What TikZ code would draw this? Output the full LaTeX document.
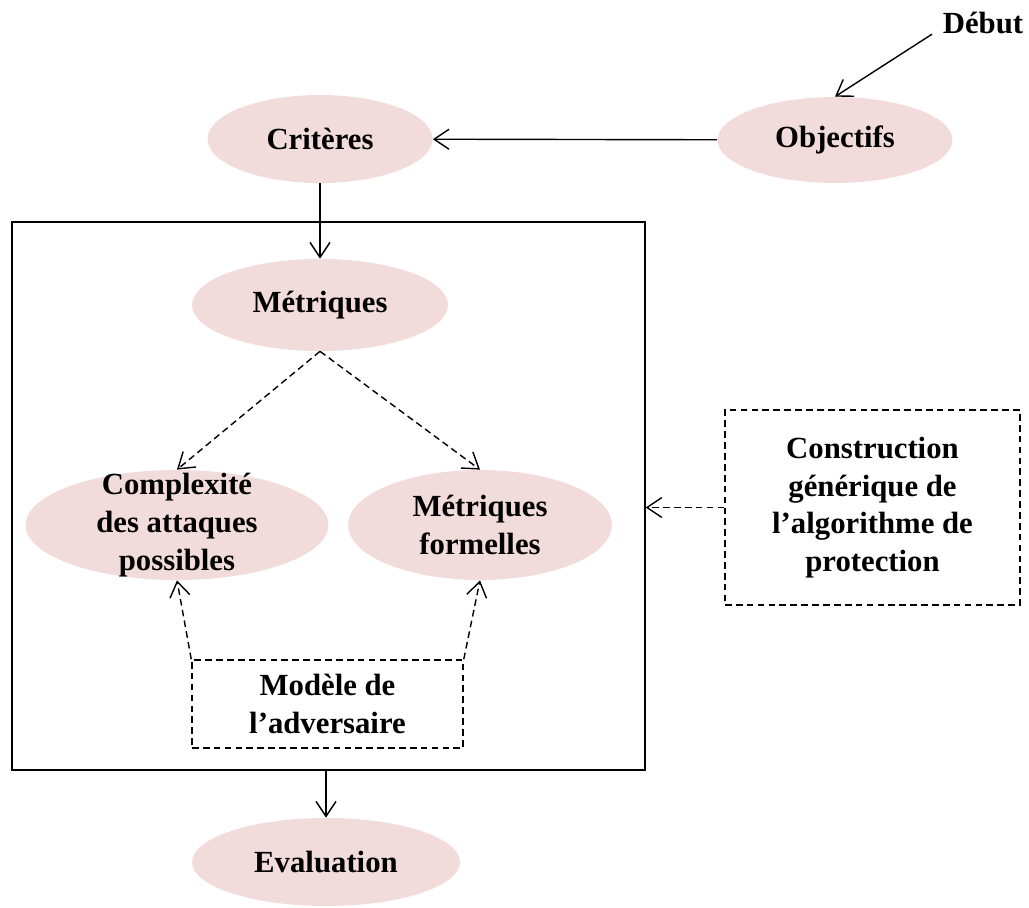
\documentclass[tikz,border=0pt]{standalone}
\usepackage{fontspec}
\setmainfont{Liberation Serif}
\usetikzlibrary{shapes.geometric,arrows.meta}
\definecolor{rose}{RGB}{242,220,219}
\tikzset{
  etat/.style={ellipse, fill=rose, inner sep=0pt, align=center},
  boite/.style={draw, line width=0.8pt, align=center},
  tirets/.style={line width=0.9pt, dash pattern=on 3.8pt off 2.4pt},
  fleche/.style={-{Straight Barb[length=0.3cm,width=0.4cm]}, line width=0.8pt},
}
\begin{document}
\begin{tikzpicture}[x=0.02cm, y=-0.02cm,
    font=\bfseries\fontsize{17.5}{21.5}\selectfont]
  \useasboundingbox (0,0) rectangle (1029,908);
  % etats
  \node (debut) [inner xsep=6pt, inner ysep=0pt] at (983,23) {Début};
  \node (objectifs) [etat, minimum width=4.7cm, minimum height=1.72cm] at (835,140) {Objectifs};
  \node (criteres) [etat, minimum width=4.5cm, minimum height=1.76cm] at (320,139) {Critères};
  \node (cadre) [boite, minimum width=12.66cm, minimum height=10.96cm] at (328.5,496) {};
  \node (metriques) [etat, minimum width=5.12cm, minimum height=1.84cm] at (320,305) {Métriques};
  \node (complexite) [etat, minimum width=6.06cm, minimum height=2.2cm,
    label={[align=center]center:Complexité\\des attaques\\possibles}] at (177,525) {};
  \node (formelles) [etat, minimum width=5.28cm, minimum height=2.2cm] at (480,525) {Métriques\\formelles};
  \node (adversaire) [boite, tirets, minimum width=5.42cm, minimum height=1.76cm] at (327.5,704) {Modèle de\\l’adversaire};
  \node (construction) [boite, tirets, minimum width=5.9cm, minimum height=3.9cm] at (872.5,507.5) {Construction\\générique de\\l’algorithme de\\protection};
  \node (evaluation) [etat, minimum width=5.36cm, minimum height=1.76cm] at (326,862) {Evaluation};
  % liens
  \draw[fleche] (debut.south west) -- (objectifs.north);
  \draw[fleche] (objectifs) -- (criteres);
  \draw[fleche] (criteres) -- (metriques);
  \begin{scope}[tirets]
    \draw[fleche] (metriques.south) -- (complexite.north);
    \draw[fleche] (metriques.south) -- (formelles.north);
    \draw[fleche] (adversaire.north west) -- (complexite.south);
    \draw[fleche] (adversaire.north east) -- (formelles.south);
    \draw[fleche] (construction.west) -- (construction.west -| cadre.east);
  \end{scope}
  \draw[fleche] (evaluation.north |- cadre.south) -- (evaluation.north);
\end{tikzpicture}
\end{document}
